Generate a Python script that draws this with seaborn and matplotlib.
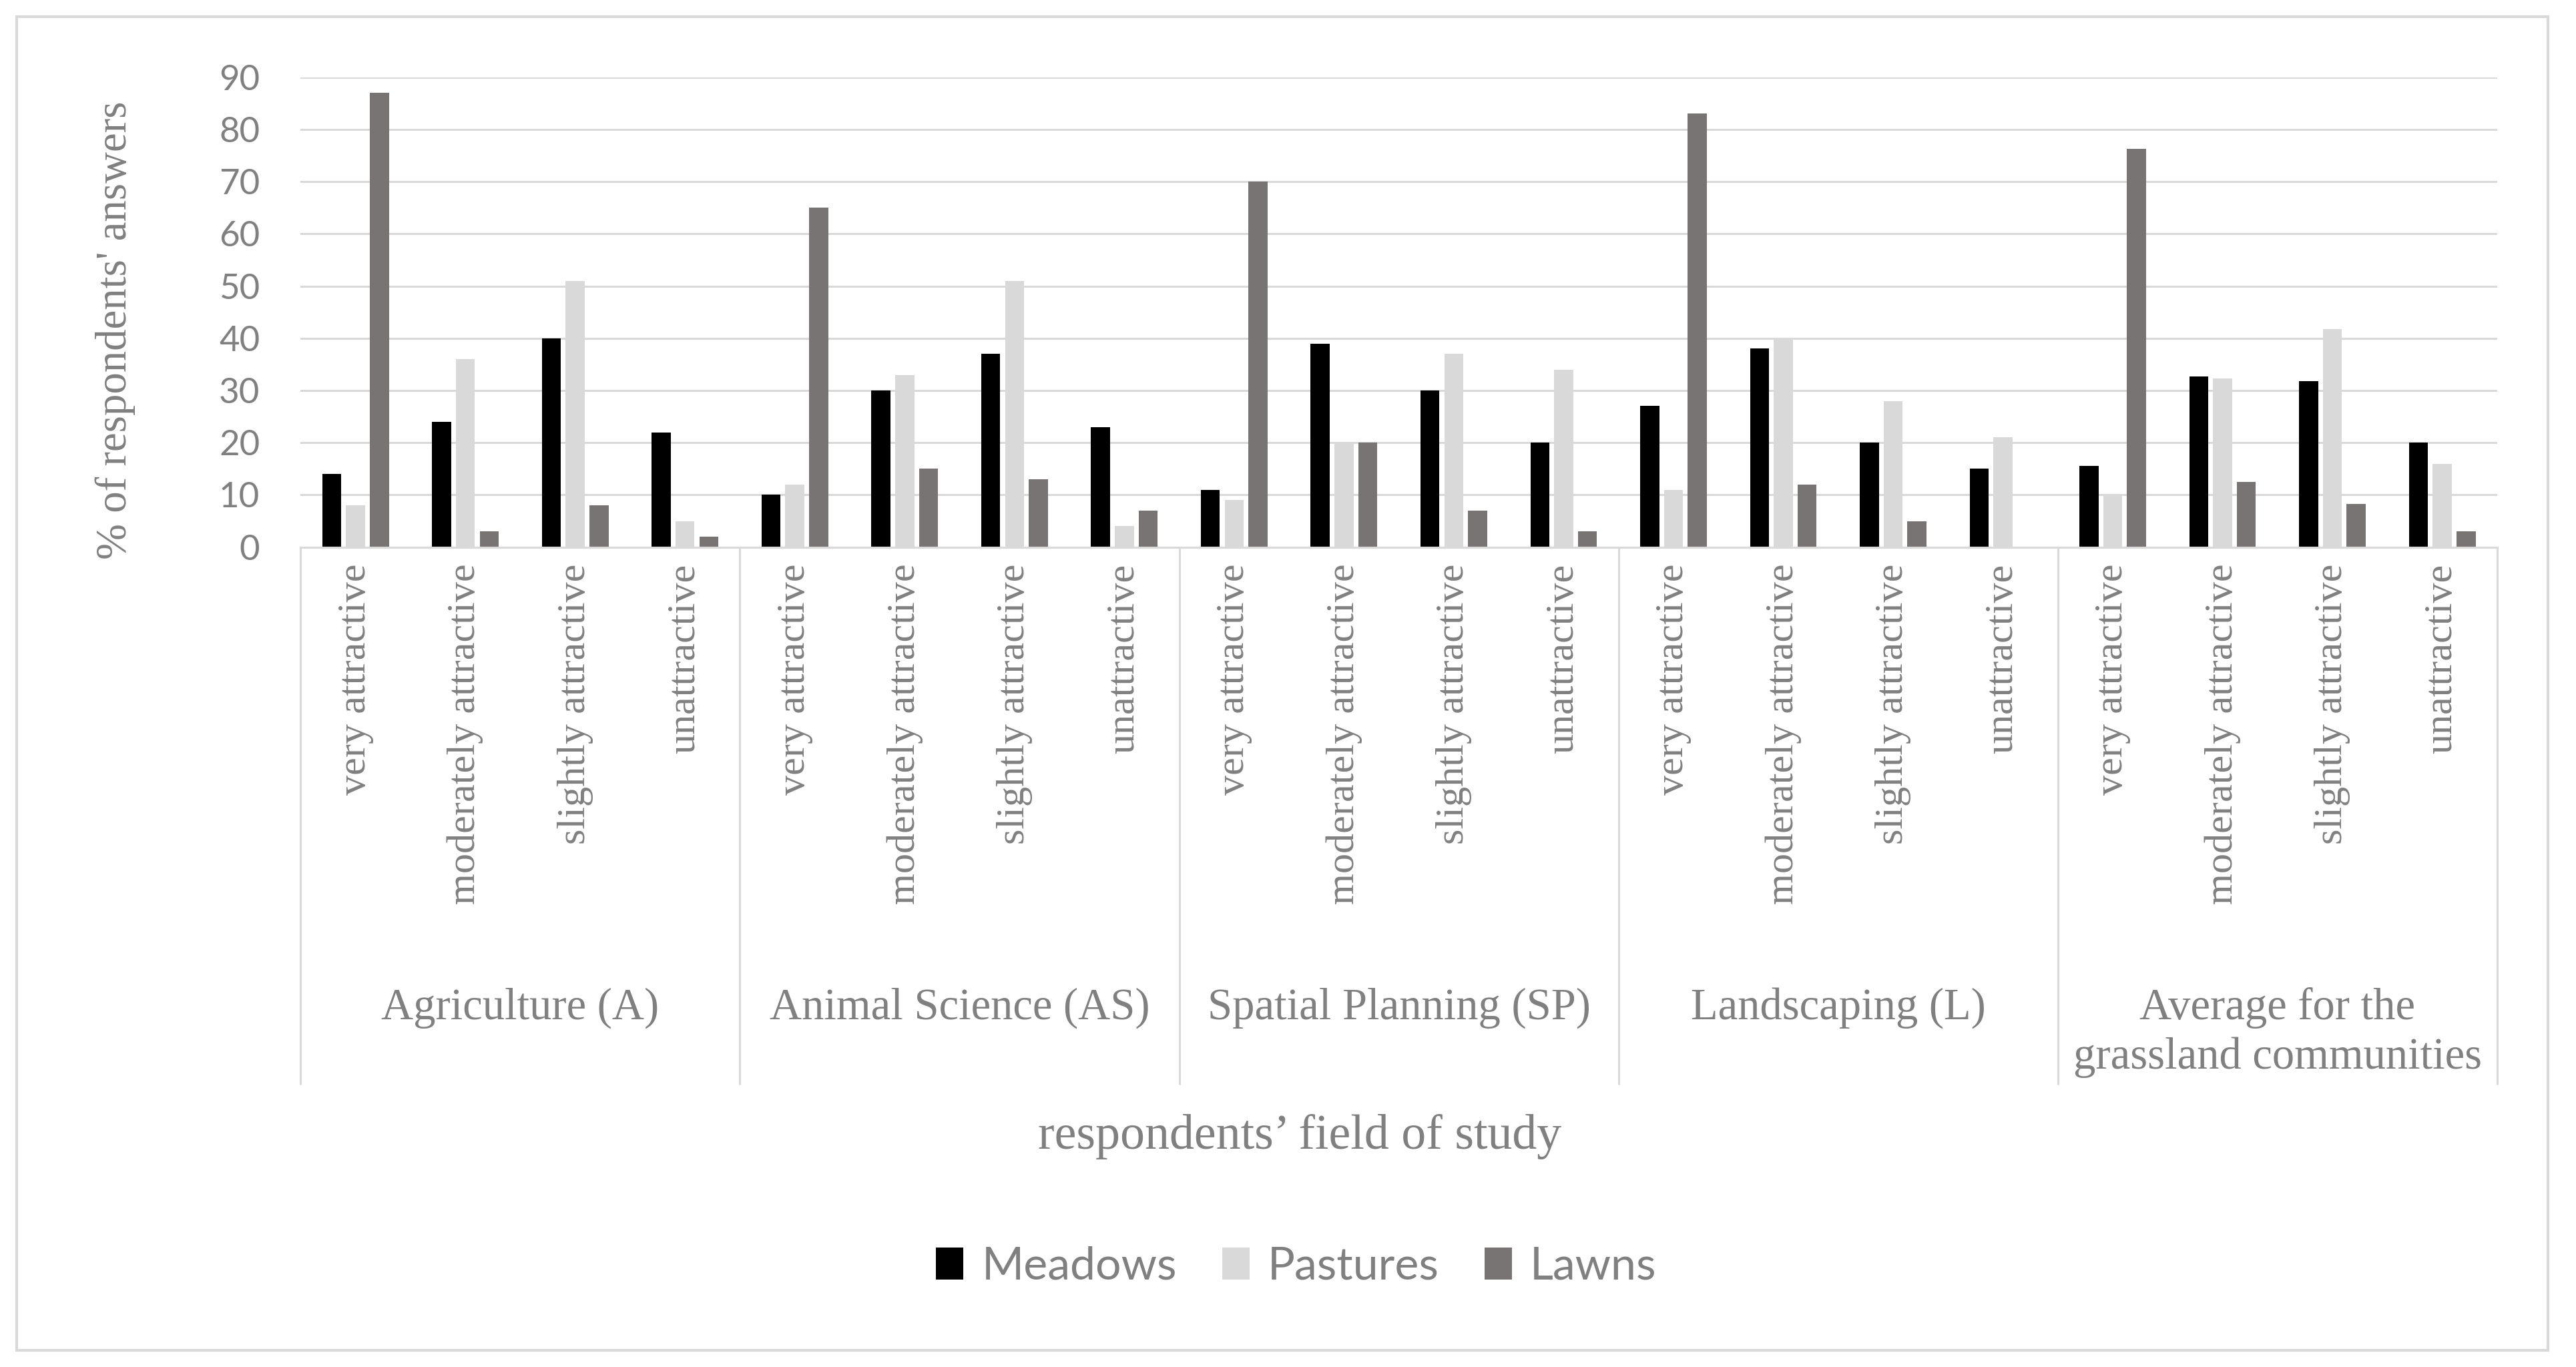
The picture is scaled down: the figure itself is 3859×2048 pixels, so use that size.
import numpy as np
import pandas as pd
import matplotlib
matplotlib.use("Agg")
import matplotlib.pyplot as plt
import seaborn as sns
from matplotlib.patches import Rectangle

# ---------------- data ----------------
groups = ["Agriculture (A)", "Animal Science (AS)", "Spatial Planning (SP)",
          "Landscaping (L)", "Average for the\ngrassland communities"]
categories = ["very attractive", "moderately attractive",
              "slightly attractive", "unattractive"]
series = ["Meadows", "Pastures", "Lawns"]

meadows = [14, 24, 40, 22,
           10, 30, 37, 23,
           11, 39, 30, 20,
           27, 38, 20, 15,
           15.5, 32.75, 31.75, 20]
pastures = [8, 36, 51, 5,
            12, 33, 51, 4,
            9, 20, 37, 34,
            11, 40, 28, 21,
            10, 32.25, 41.75, 16]
lawns = [87, 3, 8, 2,
         65, 15, 13, 7,
         70, 20, 7, 3,
         83, 12, 5, 0,
         76.25, 12.5, 8.25, 3]

y_ticks = [0, 10, 20, 30, 40, 50, 60, 70, 80, 90]
y_title = "% of respondents' answers"
x_title = "respondents\u2019 field of study"

colors = {"Meadows": "#000000", "Pastures": "#d9d9d9", "Lawns": "#797373"}
text_gray = "#808080"
line_gray = "#d9d9d9"

# ---------------- table ----------------
slots = [f"{g}|{c}" for g in groups for c in categories]
values = {"Meadows": meadows, "Pastures": pastures, "Lawns": lawns}
rows = []
for s in series:
    for slot, v in zip(slots, values[s]):
        rows.append({"slot": slot, "series": s, "value": v})
df = pd.DataFrame(rows)

# ---------------- figure ----------------
sns.set_theme(style="white")
plt.rcParams["font.family"] = ["Liberation Serif", "DejaVu Serif"]

W, H = 1568.0, 832.0  # reference layout units
fig = plt.figure(figsize=(3859 / 200, 2048 / 200), dpi=200)
fig.patch.set_facecolor("white")

ax_left, ax_right = 183 / W, 1520 / W
ax_bottom, ax_top = 1 - 333 / H, 1 - 47 / H
ax = fig.add_axes([ax_left, ax_bottom, ax_right - ax_left, ax_top - ax_bottom])

sns.barplot(data=df, x="slot", y="value", hue="series", order=slots,
            hue_order=series, palette=colors, width=0.65, gap=0.2,
            linewidth=0, errorbar=None, ax=ax, legend=True)

handles, labels = ax.get_legend_handles_labels()
ax.get_legend().remove()

ax.set_xlim(-0.5, len(slots) - 0.5)
ax.set_ylim(0, 90)
ax.set_yticks(y_ticks)
ax.set_yticklabels([str(t) for t in y_ticks], family="Lato", fontsize=19,
                   color=text_gray)
ax.set_xticks(range(len(slots)))
ax.set_xticklabels([c for g in groups for c in categories], rotation=90,
                   fontsize=21.7, color=text_gray)
ax.tick_params(axis="x", length=0, pad=9)
ax.tick_params(axis="y", length=0, pad=22)
ax.set_xlabel("")
ax.set_ylabel("")

ax.yaxis.grid(True, color=line_gray, linewidth=1.1)
ax.xaxis.grid(False)
ax.set_axisbelow(True)
for side in ["left", "right", "top"]:
    ax.spines[side].set_visible(False)
ax.spines["bottom"].set_color(line_gray)
ax.spines["bottom"].set_linewidth(1.1)

# group separators below the axis
ax_h_px = (333 - 47)
y_sep_bottom = (333 - 660) / ax_h_px
trans = ax.get_xaxis_transform()
for k in range(len(groups) + 1):
    xk = -0.5 + 4 * k
    ax.plot([xk, xk], [0, y_sep_bottom], transform=trans, color=line_gray,
            linewidth=1.1, clip_on=False, solid_capstyle="butt")

# group labels
y_grp = (333 - 601) / ax_h_px
for k, g in enumerate(groups):
    ax.text(1.5 + 4 * k, y_grp, g, transform=trans, ha="center", va="top",
            fontsize=24, color=text_gray, linespacing=1.25)

# axis titles
fig.text(70 / W, 1 - 201 / H, y_title, rotation=90, ha="center", va="center",
         fontsize=23.3, color=text_gray)
fig.text(791 / W, 1 - 692 / H, x_title, ha="center", va="center",
         fontsize=26.6, color=text_gray)

# legend
leg = fig.legend(handles, labels, loc="center", bbox_to_anchor=(789 / W, 1 - 771 / H),
                 ncol=3, frameon=False, prop={"family": "Lato", "size": 24.5},
                 handlelength=0.6, handleheight=0.7, handletextpad=0.4,
                 columnspacing=1.0)
for t in leg.get_texts():
    t.set_color(text_gray)

# outer border
fig.patches.append(Rectangle((10 / W, 10 / H), (1551 - 10) / W, (822 - 10) / H,
                             transform=fig.transFigure, fill=False,
                             edgecolor=line_gray, linewidth=1.5))

fig.savefig("out.png", dpi=200, facecolor="white")
